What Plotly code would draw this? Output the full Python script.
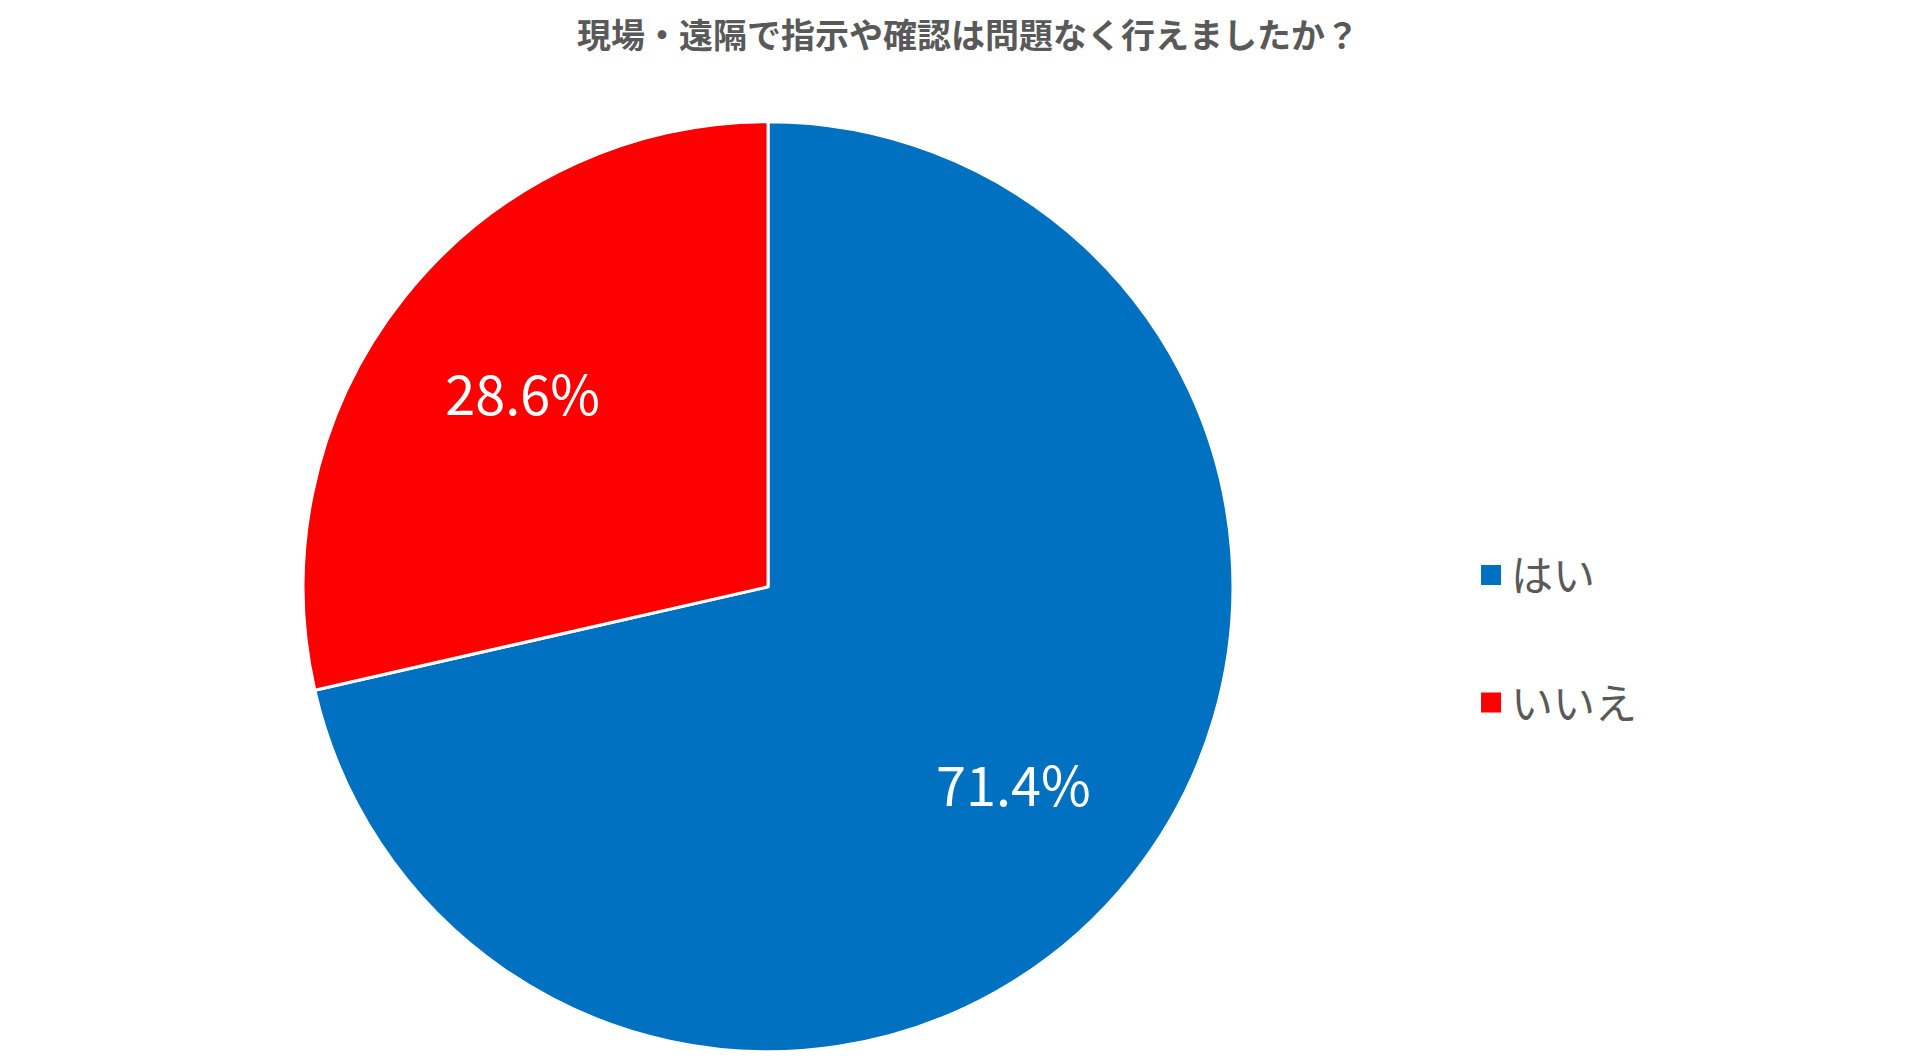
import plotly.graph_objects as go

# Survey answers
labels = ['はい', 'いいえ']
counts = [5, 2]
colors = ['#0070C0', '#FF0000']

title_text = '現場・遠隔で指示や確認は問題なく行えましたか？'
font_jp = 'Noto Sans CJK JP'
pie_domain = dict(x=[0.1537, 0.638], y=[0.014, 0.893])

fig = go.Figure()

# filled pie
fig.add_trace(go.Pie(
    labels=labels,
    values=counts,
    sort=False,
    direction='clockwise',
    rotation=0,
    marker=dict(colors=colors, line=dict(color='white', width=3)),
    textinfo='none',
    domain=pie_domain,
    showlegend=False,
    hoverinfo='label+percent',
))

# transparent ring on top, only to place the percentage labels further out
fig.add_trace(go.Pie(
    labels=labels,
    values=counts,
    sort=False,
    direction='clockwise',
    rotation=0,
    hole=0.35,
    marker=dict(colors=['rgba(0,0,0,0)'] * len(labels), line=dict(width=0)),
    texttemplate='%{percent:.1%}',
    textposition='inside',
    insidetextorientation='horizontal',
    textfont=dict(family=font_jp, size=54, color='white'),
    domain=pie_domain,
    showlegend=False,
    hoverinfo='skip',
))

# legend entries (square markers), one group each so they can be spaced apart
for name, col in zip(labels, colors):
    fig.add_trace(go.Scatter(
        x=[None], y=[None], mode='markers', name=name, legendgroup=name,
        marker=dict(symbol='square', size=20, color=col,
                    line=dict(color=col, width=4)),
        hoverinfo='skip',
    ))

fig.update_layout(
    width=1920, height=1059,
    paper_bgcolor='white', plot_bgcolor='white',
    margin=dict(l=0, r=0, t=0, b=0),
    title=dict(text='<b>' + title_text + '</b>', x=0.5, xanchor='center',
               y=0.973, yanchor='middle',
               font=dict(family=font_jp, size=34, color='#595959')),
    xaxis=dict(visible=False),
    yaxis=dict(visible=False),
    legend=dict(x=0.762, xanchor='left', y=0.404, yanchor='middle',
                font=dict(family=font_jp, size=42, color='#595959'),
                tracegroupgap=70, itemsizing='trace'),
)

fig.write_html('out.html')
